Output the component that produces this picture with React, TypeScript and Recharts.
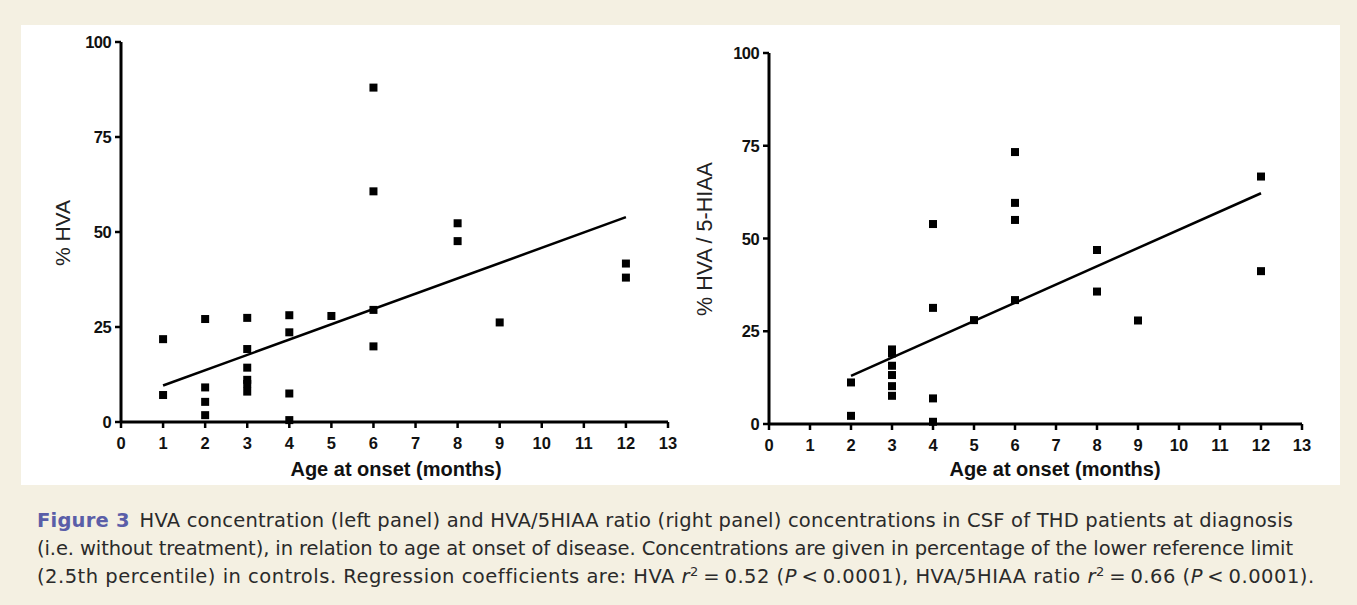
import React from 'react';
import { ScatterChart, Scatter, XAxis, YAxis } from 'recharts';

// left panel: HVA (% of lower reference limit) vs age at onset
const hvaAge = [1, 1, 2, 2, 2, 2, 3, 3, 3, 3, 3, 3, 4, 4, 4, 4, 5, 6, 6, 6, 6, 8, 8, 9, 12, 12];
const hvaPct = [21.8, 7.1, 27.1, 9.1, 5.3, 1.8, 27.4, 19.2, 14.3, 11.1, 10.0, 8.0, 28.1, 23.6, 7.5, 0.5, 27.9, 88.0, 60.7, 29.5, 19.9, 52.3, 47.6, 26.2, 41.7, 38.0];
const hvaFitAge = [1, 12];
const hvaFitPct = [9.6, 53.9];

// right panel: HVA / 5-HIAA ratio vs age at onset
const ratioAge = [2, 2, 3, 3, 3, 3, 3, 3, 4, 4, 4, 4, 5, 6, 6, 6, 6, 8, 8, 9, 12, 12];
const ratioPct = [11.2, 2.2, 20.1, 19.0, 15.7, 13.2, 10.2, 7.6, 53.9, 31.3, 6.9, 0.6, 28.0, 73.3, 59.6, 55.0, 33.4, 46.9, 35.7, 27.9, 66.7, 41.2];
const ratioFitAge = [2, 12];
const ratioFitPct = [13.0, 62.2];

const xTicks = [0, 1, 2, 3, 4, 5, 6, 7, 8, 9, 10, 11, 12, 13];
const yTicks = [0, 25, 50, 75, 100];

const toRows = (xs: number[], ys: number[]) => xs.map((x, i) => ({ x, y: ys[i] }));

const axisFont = 'Liberation Sans, Arial, sans-serif';

const Square = (props: any) => {
  const { cx, cy } = props;
  if (cx == null || cy == null) return <g />;
  return <rect x={cx - 4} y={cy - 4} width={8} height={8} fill="#000" />;
};

const XTick = (props: any) => {
  const { x, y, payload } = props;
  return (
    <text x={x} y={y} dy={13} textAnchor="middle" dominantBaseline="central"
      fontFamily={axisFont} fontSize={16.5} fontWeight={700} fill="#111">
      {payload.value}
    </text>
  );
};

const YTick = (props: any) => {
  const { x, y, payload } = props;
  return (
    <text x={x} y={y} dx={-2} textAnchor="end" dominantBaseline="central"
      fontFamily={axisFont} fontSize={16.5} fontWeight={700} fill="#111" letterSpacing={-0.6}>
      {payload.value}
    </text>
  );
};

interface PanelProps {
  left: number;
  width: number;
  margin: { top: number; right: number; bottom: number; left: number };
  points: { x: number; y: number }[];
  fit: { x: number; y: number }[];
}

const Panel: React.FC<PanelProps> = ({ left, width, margin, points, fit }) => (
  <div style={{ position: 'absolute', left, top: 0 }}>
    <ScatterChart width={width} height={500} margin={margin}>
      <XAxis
        type="number"
        dataKey="x"
        domain={[0, 13]}
        ticks={xTicks}
        interval={0}
        tick={<XTick />}
        tickSize={6}
        tickMargin={2}
        height={50}
        axisLine={{ stroke: '#000', strokeWidth: 3 }}
        tickLine={{ stroke: '#000', strokeWidth: 2.5 }}
      />
      <YAxis
        type="number"
        dataKey="y"
        domain={[0, 100]}
        ticks={yTicks}
        interval={0}
        tick={<YTick />}
        tickSize={6}
        tickMargin={2}
        width={60}
        axisLine={{ stroke: '#000', strokeWidth: 3 }}
        tickLine={{ stroke: '#000', strokeWidth: 2.5 }}
      />
      <Scatter data={points} shape={Square} isAnimationActive={false} />
      <Scatter
        data={fit}
        line={{ stroke: '#000', strokeWidth: 2.5 }}
        shape={() => <g />}
        isAnimationActive={false}
      />
    </ScatterChart>
  </div>
);

const sup = { fontSize: 13, lineHeight: 0 };

export default function App() {
  return (
    <div style={{ position: 'absolute', left: 0, top: 0, width: 1357, height: 605, background: '#f4f0e2', overflow: 'hidden' }}>
      <div style={{ position: 'absolute', left: 21, top: 25, width: 1319, height: 460, background: '#fff' }} />
      <Panel
        left={0}
        width={700}
        margin={{ top: 42, right: 32, bottom: 28, left: 61 }}
        points={toRows(hvaAge, hvaPct)}
        fit={toRows(hvaFitAge, hvaFitPct)}
      />
      <Panel
        left={680}
        width={660}
        margin={{ top: 53, right: 38, bottom: 26, left: 29 }}
        points={toRows(ratioAge, ratioPct)}
        fit={toRows(ratioFitAge, ratioFitPct)}
      />
      <svg width={1357} height={500} style={{ position: 'absolute', left: 0, top: 0, pointerEvents: 'none' }}>
        <text x={62} y={233} transform="rotate(-90 62 233)" textAnchor="middle" dominantBaseline="central"
          fontFamily={axisFont} fontSize={21} fill="#222">% HVA</text>
        <text x={705} y={239} transform="rotate(-90 705 239)" textAnchor="middle" dominantBaseline="central"
          fontFamily={axisFont} fontSize={21.5} fill="#222">% HVA / 5-HIAA</text>
        <text x={396} y={469} textAnchor="middle" dominantBaseline="central"
          fontFamily={axisFont} fontSize={20} fontWeight={700} fill="#111">Age at onset (months)</text>
        <text x={1055} y={469} textAnchor="middle" dominantBaseline="central"
          fontFamily={axisFont} fontSize={20} fontWeight={700} fill="#111">Age at onset (months)</text>
      </svg>
      <div style={{ position: 'absolute', left: 37, top: 507, fontFamily: '"DejaVu Sans", "Noto Sans", sans-serif', fontSize: 19.5, lineHeight: '28px', color: '#2a2a2a', whiteSpace: 'nowrap' }}>
        <div style={{ letterSpacing: 0.2 }}>
          <span style={{ color: '#5a5ea8', fontWeight: 700 }}>Figure 3</span>
          {'\u2002'}HVA concentration (left panel) and HVA/5HIAA ratio (right panel) concentrations in CSF of THD patients at diagnosis
        </div>
        <div style={{ letterSpacing: -0.1 }}>(i.e. without treatment), in relation to age at onset of disease. Concentrations are given in percentage of the lower reference limit</div>
        <div style={{ letterSpacing: 0.5 }}>
          (2.5th percentile) in controls. Regression coefficients are: HVA <i>r</i><sup style={sup}>2</sup>{'\u2009'}={'\u2009'}0.52 (<i>P</i>{'\u2009'}&lt;{'\u2009'}0.0001), HVA/5HIAA ratio <i>r</i><sup style={sup}>2</sup>{'\u2009'}={'\u2009'}0.66 (<i>P</i>{'\u2009'}&lt;{'\u2009'}0.0001).
        </div>
      </div>
    </div>
  );
}
